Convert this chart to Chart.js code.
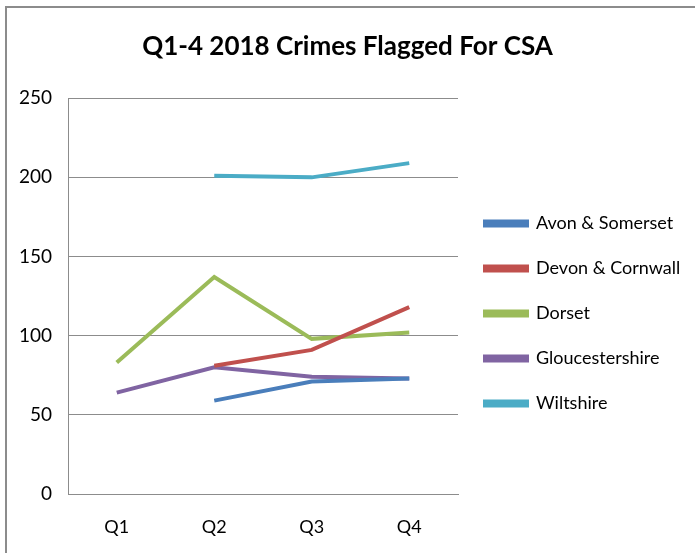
<!DOCTYPE html>
<html>
<head>
<meta charset="utf-8">
<script src="https://cdn.jsdelivr.net/npm/chart.js@4.4.1/dist/chart.umd.min.js"></script>
<style>
  html, body { margin: 0; padding: 0; background: #fff; }
  #wrap { position: relative; width: 695px; height: 553px; overflow: hidden; }
  #frame { position: absolute; left: 5px; top: 6px; width: 720px; height: 600px; border: 2px solid #8c8c8c; box-sizing: border-box; }
  canvas { position: absolute; left: 0; top: 0; }
</style>
</head>
<body>
<div id="wrap">
  <div id="frame"></div>
  <canvas id="line-chart" width="695" height="553"></canvas>
</div>
<script>
const quarters = ["Q1", "Q2", "Q3", "Q4"];
const avonSomerset = [null, 59, 71, 73];
const devonCornwall = [null, 81, 91, 118];
const dorset = [83, 137, 98, 102];
const gloucestershire = [64, 80, 74, 73];
const wiltshire = [null, 201, 200, 209];

const fontName = "Lato, 'Open Sans', sans-serif";

function serie(label, data, color) {
  return {
    label: label,
    data: data,
    borderColor: color,
    backgroundColor: color,
    borderWidth: 4,
    pointRadius: 0,
    pointHoverRadius: 0,
    tension: 0,
  };
}

// legend starts right where the plot area ends (x = 458)
const legendWidth = {
  id: "legendWidth",
  beforeInit(chart) {
    const fit = chart.legend.fit;
    chart.legend.fit = function () {
      fit.bind(chart.legend)();
      this.width = 695 - 458;
    };
  },
};

const contenedorLineChart = document.querySelector("#line-chart").getContext("2d");

const lineChart = new Chart(contenedorLineChart, {
  type: "line",
  data: {
    labels: quarters,
    datasets: [
      serie("Avon & Somerset", avonSomerset, "#4a7ebb"),
      serie("Devon & Cornwall", devonCornwall, "#c0504d"),
      serie("Dorset", dorset, "#9bbb59"),
      serie("Gloucestershire", gloucestershire, "#8064a2"),
      serie("Wiltshire", wiltshire, "#4bacc6"),
    ],
  },
  options: {
    responsive: false,
    animation: false,
    layout: { padding: 0 },
    plugins: {
      title: {
        display: true,
        text: "Q1-4 2018 Crimes Flagged For CSA",
        color: "#000",
        font: { family: fontName, size: 26, weight: "bold" },
        padding: { top: 31, bottom: 36 },
      },
      legend: {
        position: "right",
        title: {
          display: true,
          text: " ",
          font: { size: 10 },
          padding: { top: 62, bottom: 0 },
        },
        labels: {
          color: "#000",
          font: { family: fontName, size: 18 },
          boxWidth: 42,
          boxHeight: 4,
          padding: 27,
        },
      },
      tooltip: { enabled: false },
    },
    scales: {
      x: {
        offset: true,
        afterFit(scale) { scale.height = 553 - 494; },
        grid: { display: false, drawTicks: false },
        border: { display: true, color: "#8c8c8c", width: 1 },
        ticks: { color: "#000", font: { family: fontName, size: 18 }, padding: 22 },
      },
      y: {
        min: 0,
        max: 250,
        afterFit(scale) { scale.width = 68; },
        grid: { color: "#8c8c8c", drawTicks: false },
        border: { display: true, color: "#8c8c8c", width: 1 },
        ticks: { stepSize: 50, color: "#000", font: { family: fontName, size: 19 }, padding: 16 },
      },
    },
  },
  plugins: [legendWidth],
});
</script>
</body>
</html>
